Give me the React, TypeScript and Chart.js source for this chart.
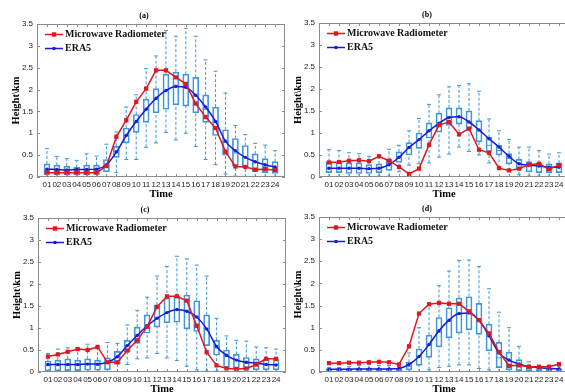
import React, { useEffect, useRef } from 'react';
import { Chart, registerables } from 'chart.js';

Chart.register(...registerables);

const hours = ['01','02','03','04','05','06','07','08','09','10','11','12','13','14','15','16','17','18','19','20','21','22','23','24'];
const seriesLabels = ['Microwave Radiometer', 'ERA5'];

// Panel (a)
const mwrA = [0.1,0.1,0.1,0.1,0.1,0.1,0.25,0.92,1.3,1.72,2.02,2.44,2.44,2.28,2.13,1.68,1.37,1.12,0.58,0.24,0.23,0.17,0.18,0.16];
const era5A = [0.18,0.17,0.16,0.17,0.17,0.18,0.28,0.57,0.95,1.27,1.55,1.8,1.98,2.07,2.05,1.87,1.6,1.27,0.82,0.6,0.45,0.35,0.28,0.23];
// [low whisker, q1, median, q3, high whisker]
const boxA = [
  [0,0.06,0.15,0.3,0.65],[0,0.05,0.15,0.27,0.47],[0,0.05,0.13,0.25,0.42],[0,0.05,0.13,0.22,0.38],
  [0,0.05,0.14,0.27,0.53],[0,0.06,0.15,0.27,0.48],[0,0.12,0.25,0.4,0.75],[0.1,0.45,0.6,0.7,1.03],
  [0.4,0.78,0.95,1.12,1.6],[0.4,1.02,1.25,1.43,1.88],[0.68,1.25,1.55,1.78,2.48],[0.78,1.47,1.78,2.02,2.77],
  [1.02,1.55,1.97,2.35,3.35],[0.85,1.65,2.1,2.4,3.22],[1.0,1.62,2.05,2.35,3.4],[0.7,1.47,1.85,2.28,3.22],
  [0.4,1.25,1.55,1.88,2.68],[0.28,0.95,1.25,1.6,2.42],[0.07,0.5,0.8,1.08,1.92],[0.02,0.25,0.55,0.88,1.18],
  [0,0.22,0.45,0.72,0.97],[0,0.12,0.33,0.53,0.77],[0,0.1,0.25,0.42,0.73],[0,0.08,0.22,0.35,0.6]
];

// Panel (b)
const mwrB = [0.33,0.34,0.37,0.38,0.36,0.47,0.37,0.23,0.07,0.19,0.73,1.18,1.25,0.97,1.1,0.62,0.55,0.2,0.15,0.19,0.28,0.3,0.18,0.27];
const era5B = [0.2,0.2,0.2,0.2,0.19,0.2,0.28,0.45,0.67,0.85,1.05,1.22,1.35,1.37,1.25,1.07,0.87,0.68,0.47,0.3,0.27,0.25,0.22,0.22];
const boxB = [
  [0,0.1,0.2,0.35,0.62],[0,0.1,0.2,0.33,0.6],[0,0.08,0.2,0.32,0.55],[0,0.08,0.2,0.32,0.53],
  [0,0.08,0.18,0.28,0.47],[0.02,0.1,0.2,0.3,0.5],[0.02,0.15,0.3,0.4,0.63],[0.12,0.33,0.45,0.57,0.72],
  [0.27,0.5,0.65,0.78,1.05],[0.3,0.65,0.85,1.0,1.33],[0.32,0.88,1.05,1.23,1.65],[0.45,1.02,1.22,1.45,1.87],
  [0.52,1.17,1.37,1.57,2.05],[0.68,1.2,1.37,1.57,2.08],[0.58,1.1,1.25,1.5,2.12],[0.5,0.8,1.05,1.28,1.95],
  [0.32,0.58,0.72,0.9,1.32],[0.22,0.5,0.6,0.72,1.05],[0.15,0.3,0.42,0.53,0.85],[0.05,0.17,0.3,0.4,0.68],
  [0.02,0.12,0.28,0.35,0.68],[0.02,0.1,0.25,0.32,0.6],[0,0.1,0.2,0.3,0.52],[0,0.1,0.22,0.32,0.55]
];

// Panel (c)
const mwrC = [0.35,0.4,0.46,0.52,0.5,0.57,0.22,0.22,0.49,0.72,1.03,1.48,1.72,1.72,1.62,1.05,0.45,0.15,0.08,0.07,0.08,0.17,0.3,0.3];
const era5C = [0.17,0.17,0.17,0.17,0.18,0.18,0.22,0.35,0.6,0.83,1.05,1.22,1.35,1.42,1.38,1.25,0.98,0.58,0.38,0.27,0.22,0.2,0.17,0.16];
const boxC = [
  [0,0.02,0.15,0.25,0.42],[0,0.02,0.15,0.27,0.52],[0,0.03,0.16,0.3,0.55],[0,0.03,0.15,0.27,0.55],
  [0,0.04,0.17,0.3,0.63],[0,0.04,0.15,0.27,0.58],[0,0.05,0.2,0.32,0.67],[0,0.18,0.32,0.47,0.65],
  [0.17,0.45,0.6,0.72,1.07],[0.3,0.65,0.85,1.02,1.4],[0.32,0.88,1.05,1.3,1.7],[0.42,1.02,1.22,1.52,2.18],
  [0.32,1.12,1.35,1.68,2.4],[0.26,1.13,1.4,1.72,2.63],[0.13,0.98,1.38,1.75,2.57],[0.05,0.92,1.25,1.62,2.43],
  [0.02,0.6,0.98,1.3,2.18],[0.02,0.38,0.55,0.72,1.22],[0,0.1,0.35,0.5,0.82],[0,0.07,0.27,0.4,0.72],
  [0,0.05,0.2,0.33,0.7],[0,0.05,0.2,0.3,0.57],[0,0.05,0.17,0.3,0.55],[0,0.05,0.17,0.28,0.52]
];

// Panel (d)
const mwrD = [0.2,0.2,0.21,0.21,0.22,0.23,0.22,0.17,0.58,1.32,1.53,1.56,1.54,1.54,1.37,1.17,0.87,0.45,0.14,0.15,0.12,0.12,0.12,0.18];
const era5D = [0.06,0.06,0.06,0.07,0.07,0.07,0.07,0.08,0.17,0.35,0.62,0.93,1.17,1.32,1.33,1.17,0.82,0.43,0.27,0.18,0.12,0.1,0.08,0.07];
const boxD = [
  [0,0.02,0.05,0.08,0.1],[0,0.02,0.05,0.08,0.1],[0,0.02,0.05,0.08,0.12],[0,0.02,0.06,0.08,0.15],
  [0,0.02,0.06,0.08,0.17],[0,0.02,0.06,0.08,0.15],[0,0.02,0.06,0.08,0.15],[0,0.02,0.06,0.08,0.12],
  [0,0.05,0.12,0.22,0.43],[0,0.15,0.35,0.52,1.0],[0.05,0.33,0.6,0.83,1.55],[0.1,0.57,0.9,1.23,1.95],
  [0.13,0.77,1.15,1.45,2.28],[0.16,0.88,1.3,1.67,2.52],[0.16,0.95,1.35,1.7,2.53],[0.08,0.85,1.17,1.55,2.38],
  [0.05,0.48,0.8,1.08,1.88],[0,0.1,0.32,0.67,1.35],[0,0.05,0.25,0.45,1.0],[0,0.03,0.15,0.28,0.58],
  [0,0.02,0.07,0.12,0.23],[0,0.02,0.05,0.08,0.12],[0,0.02,0.05,0.08,0.12],[0,0.02,0.05,0.08,0.12]
];

const RED = '#e3151d';
const BLUE = '#1a1ad6';
const BOXC = '#3d95dd';
const FRAME = '#8c8c8c';

const Y_AXIS_W = 37;
const TITLE_H = 24;
const X_AXIS_H = 23;
const PAD_R = 2;

type PanelCfg = {
  title: string; mwr: number[]; era5: number[]; box: number[][];
  left: number; top: number; right: number; bottom: number;
};

const panels: PanelCfg[] = [
  { title: '(a)', mwr: mwrA, era5: era5A, box: boxA, left: 37, top: 24, right: 288, bottom: 177 },
  { title: '(b)', mwr: mwrB, era5: era5B, box: boxB, left: 319, top: 23, right: 572, bottom: 177 },
  { title: '(c)', mwr: mwrC, era5: era5C, box: boxC, left: 38, top: 218, right: 289, bottom: 372 },
  { title: '(d)', mwr: mwrD, era5: era5D, box: boxD, left: 319, top: 217, right: 572, bottom: 372 },
];

const framePlugin = {
  id: 'frame',
  afterDatasetsDraw(chart: any) {
    const { ctx, chartArea: a, scales } = chart;
    ctx.save();
    ctx.strokeStyle = FRAME;
    ctx.lineWidth = 1;
    ctx.strokeRect(Math.round(a.left) + 0.5, Math.round(a.top) + 0.5, Math.round(a.right - a.left) - 1, Math.round(a.bottom - a.top) - 1);
    ctx.beginPath();
    scales.y.ticks.forEach((t: any) => {
      const y = Math.round(scales.y.getPixelForValue(t.value)) + 0.5;
      ctx.moveTo(a.left, y); ctx.lineTo(a.left + 3, y);
      ctx.moveTo(a.right, y); ctx.lineTo(a.right - 3, y);
    });
    for (let i = 1; i <= 24; i++) {
      const x = Math.round(scales.x.getPixelForValue(i)) + 0.5;
      ctx.moveTo(x, a.bottom); ctx.lineTo(x, a.bottom - 3);
      ctx.moveTo(x, a.top); ctx.lineTo(x, a.top + 3);
    }
    ctx.stroke();
    ctx.restore();
  },
};

const legendPlugin = {
  id: 'insideLegend',
  afterDraw(chart: any) {
    const { ctx, chartArea: a } = chart;
    ctx.save();
    [0, 1].forEach((i) => {
      const ds = chart.data.datasets[i];
      const y = Math.round(a.top + 10 + i * 14) + 0.5;
      const x0 = a.left + 8;
      const x1 = a.left + 26;
      ctx.strokeStyle = ds.borderColor;
      ctx.lineWidth = 1.5;
      ctx.beginPath();
      ctx.moveTo(x0, y); ctx.lineTo(x1, y);
      ctx.stroke();
      ctx.fillStyle = ds.borderColor;
      const cx = (x0 + x1) / 2;
      if (i === 0) {
        ctx.fillRect(cx - 2.2, y - 2.2, 4.4, 4.4);
      } else {
        ctx.beginPath();
        ctx.arc(cx, y, 1.8, 0, Math.PI * 2);
        ctx.fill();
      }
      ctx.fillStyle = '#111';
      ctx.font = 'bold 10px "Liberation Serif"';
      ctx.textBaseline = 'middle';
      ctx.textAlign = 'left';
      ctx.fillText(ds.label, x1 + 2, y);
    });
    ctx.restore();
  },
};

function Panel({ cfg }: { cfg: PanelCfg }) {
  const ref = useRef<HTMLCanvasElement>(null);
  const W = cfg.right - cfg.left + Y_AXIS_W + PAD_R;
  const H = cfg.bottom - cfg.top + TITLE_H + X_AXIS_H;
  const cl = cfg.left - Y_AXIS_W;
  const ct = cfg.top - TITLE_H;

  useEffect(() => {
    const xs = hours.map((_, i) => i + 1);
    const whiskers: any[] = [];
    const caps: any[] = [];
    cfg.box.forEach((b, i) => {
      const x = xs[i];
      whiskers.push({ x, y: b[0] }, { x, y: b[1] }, { x, y: null }, { x, y: b[3] }, { x, y: b[4] }, { x, y: null });
      caps.push({ x, y: b[0] }, { x, y: b[4] });
    });
    const chart = new Chart(ref.current!, {
      type: 'bar',
      data: {
        datasets: [
          {
            type: 'line', label: seriesLabels[0],
            data: cfg.mwr.map((v, i) => ({ x: xs[i], y: v })),
            borderColor: RED, backgroundColor: RED, borderWidth: 1.5,
            pointStyle: 'rect', pointRadius: 3, pointBorderWidth: 0, pointBackgroundColor: RED,
            tension: 0,
          },
          {
            type: 'line', label: seriesLabels[1],
            data: cfg.era5.map((v, i) => ({ x: xs[i], y: v })),
            borderColor: BLUE, backgroundColor: BLUE, borderWidth: 1.5,
            pointStyle: 'circle', pointRadius: 1.7, pointBorderWidth: 0, pointBackgroundColor: BLUE,
            cubicInterpolationMode: 'monotone',
          },
          {
            type: 'line', label: 'median',
            data: cfg.box.map((b, i) => ({ x: xs[i], y: b[2] })),
            showLine: false, pointStyle: 'line', pointRadius: 3,
            pointBorderColor: BOXC, pointBorderWidth: 1, borderColor: BOXC,
          },
          {
            type: 'line', label: 'caps',
            data: caps,
            showLine: false, pointStyle: 'line', pointRadius: 2,
            pointBorderColor: BOXC, pointBorderWidth: 1, borderColor: BOXC,
          },
          {
            type: 'line', label: 'whiskers',
            data: whiskers,
            borderColor: BOXC, borderWidth: 1, borderDash: [3, 2],
            pointRadius: 0, spanGaps: false,
          },
          {
            type: 'bar', label: 'box',
            data: cfg.box.map((b, i) => ({ x: xs[i], y: [b[1], b[3]] })),
            backgroundColor: 'rgba(0,0,0,0)', borderColor: BOXC, borderWidth: 1,
            borderSkipped: false, barThickness: 6,
          },
        ] as any,
      },
      options: {
        responsive: false,
        animation: false,
        events: [],
        layout: { padding: { left: 0, right: PAD_R, top: 0, bottom: 0 } },
        plugins: {
          legend: { display: false },
          tooltip: { enabled: false },
          title: {
            display: true, text: cfg.title, color: '#000',
            font: { family: 'Liberation Serif', size: 8, weight: 'bold', lineHeight: 1 },
            padding: { top: 12, bottom: 4 },
          },
        },
        scales: {
          x: {
            type: 'linear', min: 0, max: 25, offset: false,
            grid: { display: false, drawTicks: false },
            border: { display: false },
            ticks: {
              stepSize: 1, autoSkip: false, maxRotation: 0, minRotation: 0, padding: 3,
              color: '#222', font: { family: 'Liberation Sans', size: 8 },
              callback: (v: any) => (v >= 1 && v <= 24 ? hours[v - 1] : ''),
            },
            title: {
              display: true, text: 'Time', color: '#000', padding: 0,
              font: { family: 'Liberation Serif', size: 10.5, weight: 'bold', lineHeight: 1 },
            },
            afterFit: (s: any) => { s.height = X_AXIS_H; },
          },
          y: {
            type: 'linear', min: 0, max: 3.5,
            grid: { display: false, drawTicks: false },
            border: { display: false },
            ticks: {
              stepSize: 0.5, padding: 4, color: '#222',
              font: { family: 'Liberation Sans', size: 8 },
              callback: (v: any) => String(Math.round(v * 10) / 10),
            },
            title: {
              display: true, text: 'Height\\km', color: '#000', padding: { top: 11.5, bottom: 0 },
              font: { family: 'Liberation Serif', size: 10.5, weight: 'bold', lineHeight: 1 },
            },
            afterFit: (s: any) => { s.width = Y_AXIS_W; },
          },
        },
      } as any,
      plugins: [framePlugin, legendPlugin],
    });
    return () => chart.destroy();
  }, []);

  return (
    <canvas
      ref={ref}
      width={W}
      height={H}
      style={{ position: 'absolute', left: cl, top: ct, width: W, height: H }}
    />
  );
}

export default function App() {
  return (
    <div style={{ position: 'absolute', left: 0, top: 0, width: 565, height: 392, overflow: 'hidden', background: '#fff' }}>
      {panels.map((p) => (
        <Panel key={p.title} cfg={p} />
      ))}
    </div>
  );
}
